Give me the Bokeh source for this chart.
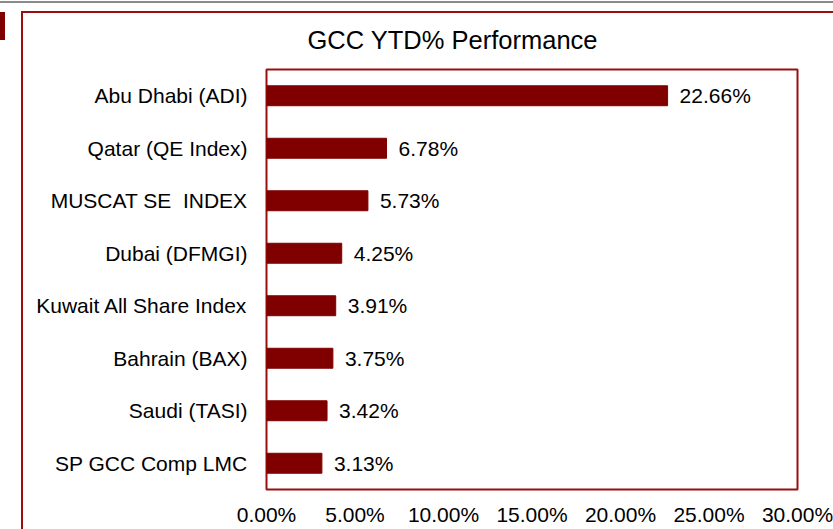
from bokeh.plotting import figure
from bokeh.models import (FactorRange, Range1d, FixedTicker, PrintfTickFormatter,
                          ColumnDataSource, InlineStyleSheet)
from bokeh.core.properties import value
from bokeh.embed import file_html
from bokeh.resources import INLINE

# Data (top to bottom as shown)
categories = ["Abu Dhabi (ADI)", "Qatar (QE Index)", "MUSCAT SE\u00a0 INDEX", "Dubai (DFMGI)",
              "Kuwait All Share Index", "Bahrain (BAX)", "Saudi (TASI)", "SP GCC Comp LMC"]
ytd_pct = [22.66, 6.78, 5.73, 4.25, 3.91, 3.75, 3.42, 3.13]
x_ticks = [0, 5, 10, 15, 20, 25, 30]
title_text = "GCC YTD% Performance"

FONT = "Liberation Sans"
BAR = "#800000"
FRAME = "#9b0e0e"

labels = [f"{v:.2f}%" for v in ytd_pct]
src = ColumnDataSource(dict(cat=categories, val=ytd_pct, lab=labels))

css = """
:host::after {
  content: ""; position: absolute; left: 21px; top: 11px; width: 900px; height: 700px;
  border: 2px solid #9b0e0e; box-sizing: border-box; pointer-events: none;
}
:host::before {
  content: ""; position: absolute; left: 0; top: 0; width: 833px; height: 45px;
  pointer-events: none; z-index: 5;
  background:
    linear-gradient(#8a8a8a, #8a8a8a) 0 1px / 833px 2px no-repeat,
    linear-gradient(#800000, #800000) 0 12px / 5px 28px no-repeat;
}
"""

p = figure(width=833, height=529, output_backend="svg", toolbar_location=None,
           y_range=FactorRange(factors=list(reversed(categories))),
           x_range=Range1d(0, 30),
           min_border_left=266, min_border_right=36, min_border_top=69, min_border_bottom=40)
p.stylesheets = [InlineStyleSheet(css=css)]

p.title.text = title_text
p.title.text_font = FONT
p.title.text_font_size = "25.5px"
p.title.text_font_style = "normal"
p.title.text_color = "#000000"
p.title.align = "left"
p.title.offset = 41
p.title.standoff = 32

p.hbar(y="cat", right="val", left=0, height=0.38, source=src, color=BAR)
p.text(x="val", y="cat", text="lab", source=src, x_offset=12,
       text_font=value(FONT), text_font_size="21px", text_align="left",
       text_baseline="middle", text_color="#000000")

p.xgrid.visible = False
p.ygrid.visible = False
p.outline_line_color = FRAME
p.outline_line_width = 2
p.background_fill_color = "white"
p.border_fill_color = "white"

xa = p.xaxis[0]
xa.ticker = FixedTicker(ticks=x_ticks)
xa.formatter = PrintfTickFormatter(format="%.2f%%")
xa.axis_line_color = None
xa.major_tick_line_color = None
xa.minor_tick_line_color = None
xa.major_label_standoff = 7
xa.major_label_text_font = FONT
xa.major_label_text_font_size = "21px"
xa.major_label_text_color = "#000000"

ya = p.yaxis[0]
ya.axis_line_color = None
ya.major_tick_line_color = None
ya.minor_tick_line_color = None
ya.major_label_standoff = 13
ya.major_label_text_font = FONT
ya.major_label_text_font_size = "21px"
ya.major_label_text_color = "#000000"

open("out.html", "w").write(file_html(p, INLINE))
